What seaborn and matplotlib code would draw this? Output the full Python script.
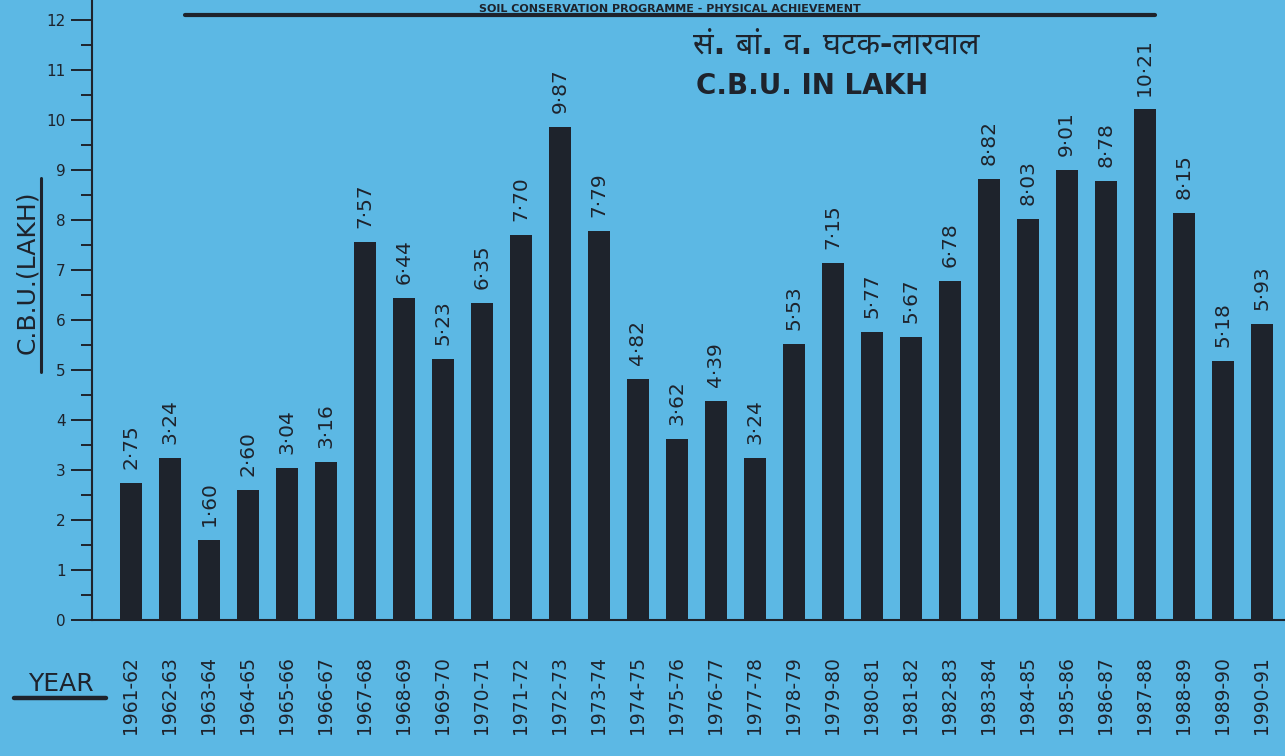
import matplotlib
matplotlib.use("Agg")
import matplotlib.pyplot as plt
import seaborn as sns
import pandas as pd
from matplotlib.lines import Line2D
from matplotlib.ticker import MultipleLocator

years = ["1961-62", "1962-63", "1963-64", "1964-65", "1965-66", "1966-67", "1967-68",
         "1968-69", "1969-70", "1970-71", "1971-72", "1972-73", "1973-74", "1974-75",
         "1975-76", "1976-77", "1977-78", "1978-79", "1979-80", "1980-81", "1981-82",
         "1982-83", "1983-84", "1984-85", "1985-86", "1986-87", "1987-88", "1988-89",
         "1989-90", "1990-91"]
cbu = [2.75, 3.24, 1.60, 2.60, 3.04, 3.16, 7.57, 6.44, 5.23, 6.35, 7.70, 9.87, 7.79, 4.82,
       3.62, 4.39, 3.24, 5.53, 7.15, 5.77, 5.67, 6.78, 8.82, 8.03, 9.01, 8.78, 10.21, 8.15,
       5.18, 5.93]
yticks = list(range(0, 13))

title = "SOIL CONSERVATION PROGRAMME - PHYSICAL ACHIEVEMENT"
hindi = "सं. बां. व. घटक-लारवाल"
subtitle = "C.B.U. IN LAKH"
ylabel = "C.B.U.(LAKH)"
xlabel = "YEAR"

BG = "#5cb8e4"
INK = "#1e232c"

sns.set_style("white")
plt.rcParams["font.family"] = ["DejaVu Sans", "Noto Sans", "Noto Sans CJK SC"]

W, H = 1285, 756
fig = plt.figure(figsize=(W / 100, H / 100), dpi=100, facecolor=BG)
ax = fig.add_axes([92 / W, (H - 620) / H, 1 - 92 / W, 620 / H])
ax.set_facecolor(BG)

df = pd.DataFrame({"year": years, "cbu": cbu})
sns.barplot(data=df, x="year", y="cbu", color=INK, width=0.56, saturation=1, ax=ax)
for p in ax.patches:
    p.set_edgecolor("none")

labels = [f"{v:.2f}".replace(".", "·") for v in cbu]
ax.bar_label(ax.containers[0], labels=labels, rotation=90, padding=10,
             fontsize=14.5, color=INK)

ax.set_xlim(-1.0, 29.6)
ax.set_ylim(0, 12.4)
ax.set_yticks(yticks)
ax.yaxis.set_minor_locator(MultipleLocator(0.5))
ax.tick_params(axis="y", which="major", length=15, width=1.4, color=INK,
               labelsize=11, labelcolor=INK, pad=4, left=True)
ax.tick_params(axis="y", which="minor", length=8, width=1.4, color=INK, left=True)
ax.tick_params(axis="x", length=0, labelsize=13.5, labelcolor=INK, pad=26, rotation=90)
ax.set_xlabel("")
ax.set_ylabel("")

for s in ["top", "right"]:
    ax.spines[s].set_visible(False)
for s in ["left", "bottom"]:
    ax.spines[s].set_color(INK)
    ax.spines[s].set_linewidth(1.5)

# title (only the lower part shows in the photo; kept small to stay in frame)
fig.text(670 / W, 1 - 11.5 / H, title, ha="center", va="baseline", fontsize=8,
         fontweight="bold", color=INK)
fig.add_artist(Line2D([185 / W, 1155 / W], [1 - 15 / H] * 2, transform=fig.transFigure,
                      color=INK, linewidth=3.0))

fig.text(836 / W, 1 - 45 / H, hindi, ha="center", va="center", fontsize=22,
         fontweight="bold", color=INK)
fig.text(812 / W, 1 - 86 / H, subtitle, ha="center", va="center", fontsize=20,
         fontweight="bold", color=INK)

# y label with underline
fig.text(27 / W, 1 - 272 / H, ylabel, ha="center", va="center", rotation=90,
         fontsize=18, color=INK)
fig.add_artist(Line2D([41 / W, 41 / W], [1 - 178 / H, 1 - 372 / H],
                      transform=fig.transFigure, color=INK, linewidth=2.2))

# YEAR label with underline
fig.text(61 / W, 1 - 684 / H, xlabel, ha="center", va="center", fontsize=18, color=INK)
fig.add_artist(Line2D([14 / W, 106 / W], [1 - 698 / H] * 2,
                      transform=fig.transFigure, color=INK, linewidth=3.2))

fig.savefig("out.png", dpi=100, facecolor=BG)
